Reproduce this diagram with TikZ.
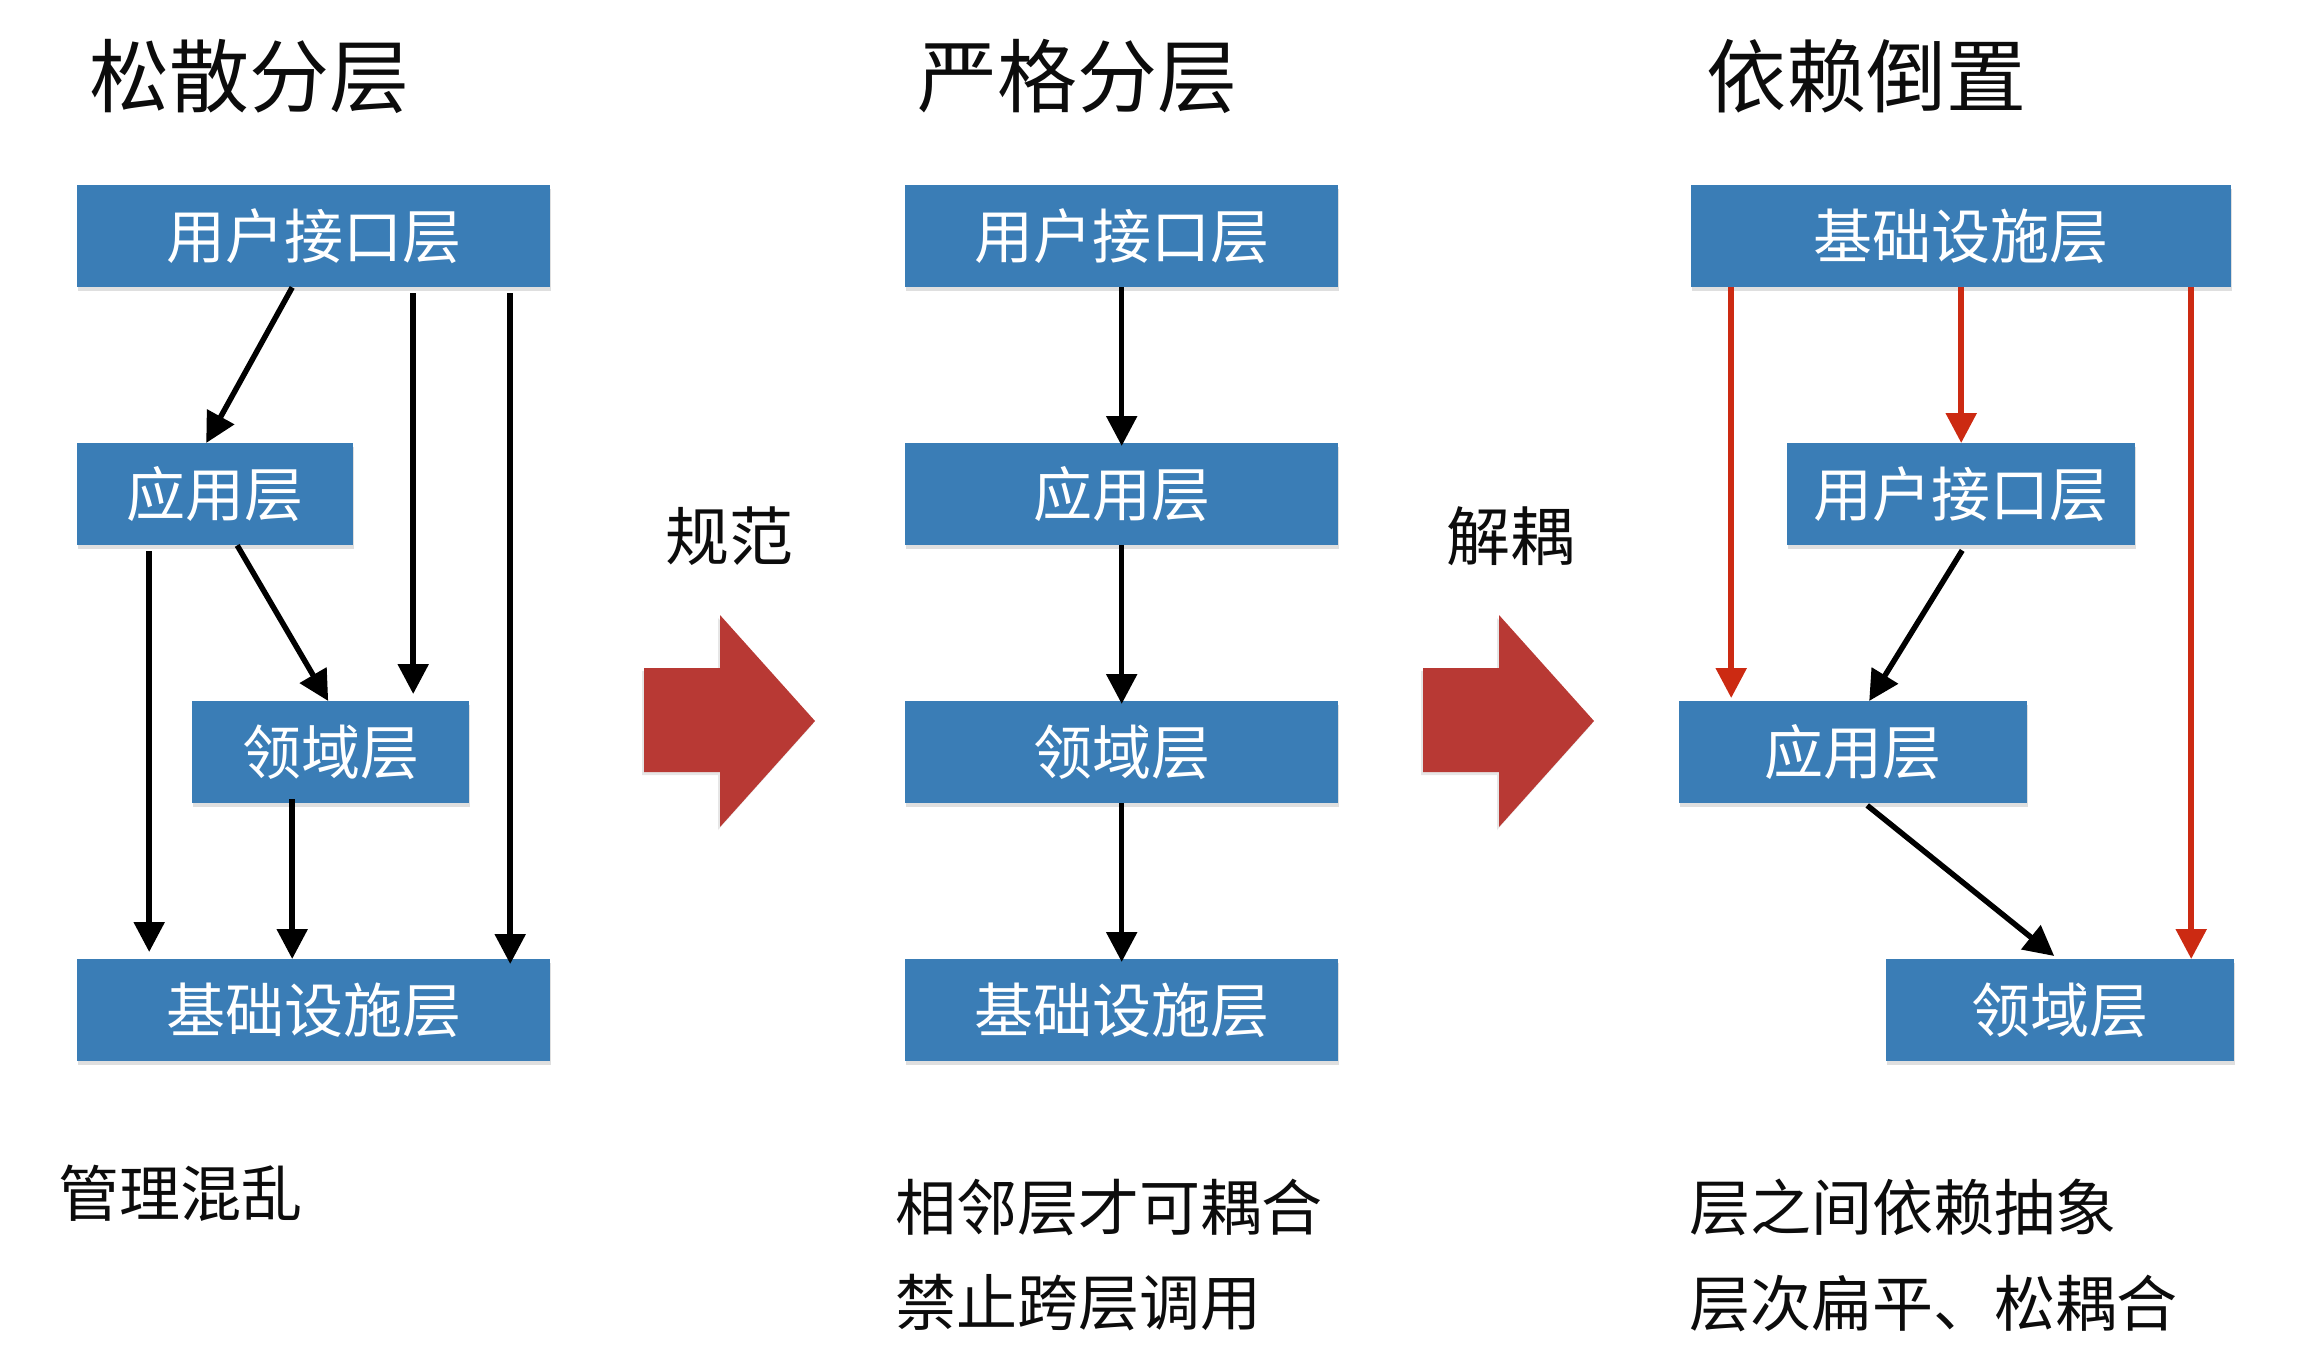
\documentclass[tikz,border=0pt]{standalone}
\usepackage{fontspec}
\setmainfont{Noto Sans CJK SC}
\usetikzlibrary{arrows.meta,shadows,calc}
\definecolor{boxblue}{RGB}{58,125,182}
\definecolor{bigred}{RGB}{184,57,52}
\definecolor{linered}{RGB}{204,42,18}
\definecolor{inkblack}{RGB}{12,12,12}
\begin{document}
\begin{tikzpicture}[x=1pt,y=-1pt,
  layer/.style={fill=boxblue, text=white, inner sep=0pt, minimum height=102pt,
    anchor=north west, font=\fontsize{59}{59}\selectfont,
    drop shadow={opacity=0.25, shadow xshift=1pt, shadow yshift=-4pt}},
  conn/.style={line width=5.5pt, draw=black, -{Triangle[length=30pt,width=30pt]}},
  redconn/.style={line width=5.5pt, draw=linered, -{Triangle[length=30pt,width=30pt]}},
  title/.style={anchor=west, inner sep=0pt, text=inkblack, font=\fontsize{80}{80}\selectfont},
  note/.style={anchor=west, inner sep=0pt, text=inkblack, font=\fontsize{61}{61}\selectfont},
  verb/.style={inner sep=0pt, text=inkblack, font=\fontsize{64}{64}\selectfont},
  bigarrow/.style={fill=bigred, drop shadow={opacity=0.2, shadow xshift=-2pt, shadow yshift=-3pt}}
]
\useasboundingbox (0,0) rectangle (2320,1370);

% titles
\node[title] (t1) at (89,76) {松散分层};
\node[title] (t2) at (917,76) {严格分层};
\node[title] (t3) at (1706,76) {依赖倒置};

% column 1
\node[layer, minimum width=473pt] (ui1)  at (77,185) {用户接口层};
\node[layer, minimum width=276pt] (app1) at (77,443) {应用层};
\node[layer, minimum width=277pt] (dom1) at (192,701) {领域层};
\node[layer, minimum width=473pt] (inf1) at (77,959) {基础设施层};

\draw[conn] ([xshift=-21.5pt]ui1.south) -- ([xshift=-9pt]app1.north);
\draw[conn] ([xshift=99.5pt,yshift=-6pt]ui1.south) -- ([xshift=82.5pt,yshift=7pt]dom1.north);
\draw[conn] ([xshift=196.5pt,yshift=-6pt]ui1.south) -- ([xshift=196.5pt,yshift=-5pt]inf1.north);
\draw[conn] ([xshift=-66pt,yshift=-6pt]app1.south) -- ([xshift=-164.5pt,yshift=7pt]inf1.north);
\draw[conn] ([xshift=22pt]app1.south) -- ([xshift=-2.5pt]dom1.north);
\draw[conn] ([xshift=-38.5pt,yshift=4pt]dom1.south) -- ([xshift=-21.5pt]inf1.north);

% column 2
\node[layer, minimum width=433pt] (ui2)  at (905,185) {用户接口层};
\node[layer, minimum width=433pt] (app2) at (905,443) {应用层};
\node[layer, minimum width=433pt] (dom2) at (905,701) {领域层};
\node[layer, minimum width=433pt] (inf2) at (905,959) {基础设施层};

\draw[conn] (ui2.south) -- ([yshift=-3pt]app2.north);
\draw[conn] (app2.south) -- ([yshift=-3pt]dom2.north);
\draw[conn] (dom2.south) -- ([yshift=-3pt]inf2.north);

% column 3
\node[layer, minimum width=540pt] (inf3) at (1691,185) {基础设施层};
\node[layer, minimum width=348pt] (ui3)  at (1787,443) {用户接口层};
\node[layer, minimum width=348pt] (app3) at (1679,701) {应用层};
\node[layer, minimum width=348pt] (dom3) at (1886,959) {领域层};

\draw[redconn] ([xshift=-230pt]inf3.south) -- ([xshift=-122pt,yshift=3pt]app3.north);
\draw[redconn] (inf3.south) -- (ui3.north);
\draw[redconn] ([xshift=230pt]inf3.south) -- ([xshift=131pt]dom3.north);
\draw[conn] ([xshift=1pt,yshift=-5pt]ui3.south) -- ([xshift=16pt]app3.north);
\draw[conn] ([xshift=14pt,yshift=-2pt]app3.south) -- ([xshift=-6pt,yshift=3pt]dom3.north);

% big arrows and their labels
\path[bigarrow] (644,668) -- (720,668) -- (720,615) -- (815,721) -- (720,827) -- (720,772) -- (644,772) -- cycle;
\path[bigarrow] (1423,668) -- (1499,668) -- (1499,615) -- (1594,721) -- (1499,827) -- (1499,772) -- (1423,772) -- cycle;
\node[verb] (v1) at (729,536) {规范};
\node[verb] (v2) at (1510,536) {解耦};

% notes
\node[note] (n1) at (58,1193) {管理混乱};
\node[note] (n2) at (895,1207) {相邻层才可耦合};
\node[note] (n3) at (895,1303) {禁止跨层调用};
\node[note] (n4) at (1689,1207) {层之间依赖抽象};
\node[note] (n5) at (1689,1303) {层次扁平、松耦合};
\end{tikzpicture}
\end{document}
